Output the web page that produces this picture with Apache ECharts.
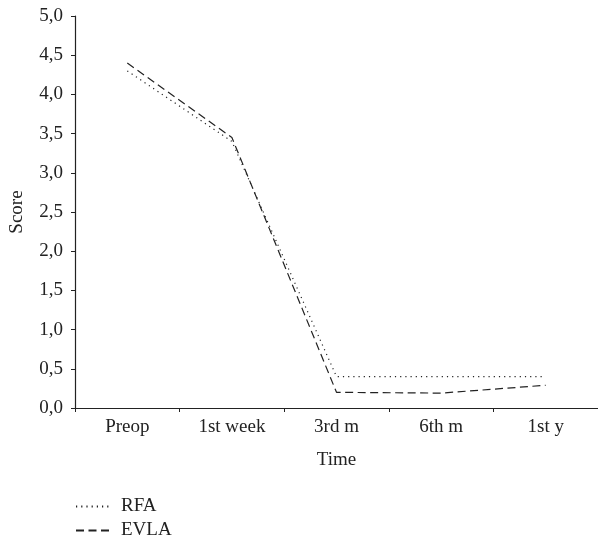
<!DOCTYPE html>
<html>
<head>
<meta charset="utf-8">
<script src="https://cdn.jsdelivr.net/npm/echarts@6/dist/echarts.min.js"></script>
<style>html,body{margin:0;padding:0;background:#fff;}#c{width:598px;height:540px;}</style>
</head>
<body>
<div id="c"></div>
<script>
var categories = ['Preop', '1st week', '3rd m', '6th m', '1st y'];
var rfa = [4.3, 3.4, 0.4, 0.4, 0.4];
var evla = [4.4, 3.45, 0.2, 0.19, 0.29];
var font = 'Liberation Serif';
var txt = { fontFamily: font, fontSize: 19, color: '#222' };
function legendFor(name, top) {
  return {
    orient: 'vertical', left: 75, top: top, padding: 0, itemWidth: 35, itemHeight: 12,
    textStyle: { fontFamily: font, fontSize: 19, color: '#222', padding: [0, 0, 0, 5] },
    itemStyle: { opacity: 0 }, data: [name]
  };
}
var chart = echarts.init(document.getElementById('c'));
chart.setOption({
  animation: false,
  grid: { left: 75, right: 0, top: 16, bottom: 132, containLabel: false, outerBoundsMode: 'none' },
  legend: [legendFor('RFA', 497), legendFor('EVLA', 521)],
  xAxis: {
    type: 'category', data: categories, boundaryGap: true,
    name: 'Time', nameLocation: 'middle', nameGap: 43,
    nameTextStyle: txt,
    axisLine: { lineStyle: { color: '#222', width: 1.2 } },
    axisTick: { show: true, length: 4, lineStyle: { color: '#222' } },
    axisLabel: { fontFamily: font, fontSize: 19, color: '#222', margin: 10 },
    splitLine: { show: false }
  },
  yAxis: {
    type: 'value', min: 0, max: 5, interval: 0.5,
    name: 'Score', nameLocation: 'middle', nameGap: 48, nameRotate: 90,
    nameTextStyle: txt,
    axisLine: { show: true, lineStyle: { color: '#222', width: 1.2 } },
    axisTick: { show: true, length: 4, lineStyle: { color: '#222' } },
    axisLabel: { fontFamily: font, fontSize: 19, color: '#222', margin: 12,
      formatter: function (v) { return v.toFixed(1).replace('.', ','); } },
    splitLine: { show: false }
  },
  series: [
    { name: 'RFA', type: 'line', data: rfa, symbol: 'none',
      lineStyle: { color: '#222', width: 1.2, type: [1.2, 4] }, itemStyle: { color: '#222' } },
    { name: 'EVLA', type: 'line', data: evla, symbol: 'none',
      lineStyle: { color: '#222', width: 1.2, type: [8, 4.5] }, itemStyle: { color: '#222' } }
  ]
});
</script>
</body>
</html>
